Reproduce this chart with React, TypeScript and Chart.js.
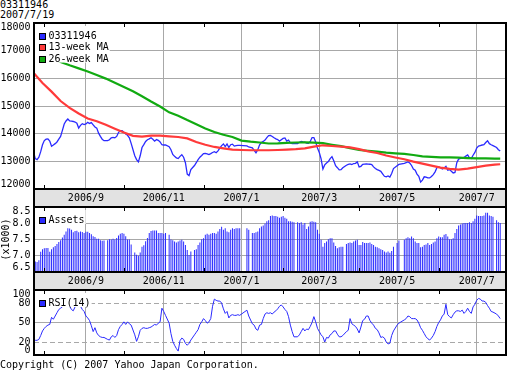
import React, { useEffect, useRef } from 'react';
import { Chart, registerables } from 'chart.js';

Chart.register(...registerables);

const FONT = '"DejaVu Sans Mono", "Liberation Mono", monospace';
const BLUE = '#2a2aff';
const RED = '#ff3a3a';
const GREEN = '#11aa11';
const GRID = '#a8a8a8';
const BAND = '#e2e2e2';

const fundCode = '03311946';
const asOfDate = '2007/7/19';
const copyright = 'Copyright (C) 2007 Yahoo Japan Corporation.';

// One entry per weekday, starting 2006-07-24 (Mon); null = Japanese holiday (no quote)
const price: (number | null)[] = [
  13362, 13100, 13062, 13150, 13350, 13600, 13750, 13800, 13810, 13730,
  13543, 13590, 13640, 13700, 13800, 13900, 14120, 14350, 14460, 14530,
  14460, 14450, 14440, 14420, 14380, 14205, 14300, 14360, 14330, 14350,
  14410, 14370, 14400, 14320, 14240, 14200, 14020, 13900, 13800, 13747,
  null, 13750, 13780, 13850, 13868, 13850, 13900, 14040, 14110, 14110,
  14050, 13990, 13940, 13850, 13650, null, 13200, 13062, 12978, 13200,
  13500, 13603, 13720, 13780, 13810, 13850, 13800, 13730, 13786, 13760,
  13700, 13600, 13591, 13590, null, 13530, 13420, 13250, 13180, 13123,
  13100, 13180, 13240, 13150, 12950, 12540, 12484, 12700, null, 12850,
  12950, 13062, 13150, 13210, 13280, 13290, 13270, 13245, 13280, 13320,
  13350, 13310, 13380, 13480, 13570, 13630, 13530, 13628, 13500, 13600,
  13620, 13550, 13565, 13575, 13580, null, null, null, 13560, 13520,
  null, 13485, 13400, 13310, 13420, 13600, 13680, 13720, 13770, 13860,
  13930, 13940, 13900, 13850, 13810, 13786, 13730, 13780, 13830, 13845,
  13730, 13770, 13664, 13645, 13640, null, 13645, 13690, 13715, 13700,
  13690, 13660, 13650, 13720, 13860, 13860, 13700, 13480, 13320, 13090,
  12720, 12870, 12940, 12990, 13100, 13170, 13020, 12840, 12770, 12690,
  12700, 12770, null, 12860, 12890, 12910, 12885, 12920, 12930, 12980,
  12800, 12820, 12890, 12900, 12906, 12900, 12895, 12880, 12800, 12740,
  12700, 12670, 12640, 12550, 12460, 12440, 12470, 12430, 12560, 12740,
  null, 12840, 12890, null, null, 12930, 12950, 12980, 12940, 12850,
  12720, 12680, 12540, 12460, 12250, 12320, 12440, 12430, 12400, 12400,
  12450, 12520, 12620, 12770, 12800, 12770, 12720, 12760, 12820, 12676,
  12700, 12640, 12580, 12600, 12950, 13080, 13110, 13120, 13140, 13190,
  13230, 13123, 13100, 13220, 13320, 13480, 13550, 13570, 13590, 13600,
  13680, 13745, 13639, 13600, 13567, null, 13500, 13420, 13370,
];

// Net assets (x1000), same weekday layout
const assets: (number | null)[] = [
  6.97, 6.82, 6.81, 6.86, 7.12, 7.2, 7.23, 7.24, 7.24, 7.12,
  7.2, 7.26, 7.3, 7.36, 7.42, 7.48, 7.56, 7.65, 7.75, 7.85,
  7.84, 7.8, 7.72, 7.76, 7.77, 7.72, 7.75, 7.73, 7.7, 7.74,
  7.74, 7.7, 7.66, 7.6, 7.58, 7.52, 7.52, 7.48, 7.46, 7.47,
  null, 7.48, 7.51, 7.5, 7.52, 7.5, 7.55, 7.62, 7.68, 7.7,
  7.68, 7.6, 7.5, 7.5, 7.35, null, 7.1, 7.03, 7.0, 7.1,
  7.28, 7.32, 7.45, 7.55, 7.7, 7.76, 7.78, 7.78, 7.78, 7.7,
  7.7, 7.7, 7.68, 7.7, null, 7.65, 7.5, 7.48, 7.44, 7.41,
  7.44, 7.47, 7.49, 7.44, 7.33, 7.18, 7.02, 7.13, null, 7.18,
  7.2, 7.33, 7.41, 7.51, 7.54, 7.65, 7.68, 7.65, 7.68, 7.7,
  7.7, 7.68, 7.75, 7.82, 7.89, 7.8, 7.85, 7.75, 7.72, 7.8,
  7.85, 7.82, 7.85, 7.85, 7.85, null, null, null, 7.85, 7.8,
  null, 7.7, 7.7, 7.72, 7.75, 7.85, 7.9, 7.93, 7.99, 8.06,
  8.09, 8.22, 8.24, 8.22, 8.22, 8.2, 8.17, 8.2, 8.22, 8.17,
  8.14, 8.06, 8.06, 8.05, 8.03, null, 8.03, 8.01, 8.03, 7.96,
  8.01, 7.82, 7.9, 8.05, 8.06, 8.05, 8.03, 7.8, 7.68, 7.49,
  7.28, 7.39, 7.44, 7.51, 7.54, 7.54, 7.41, 7.3, 7.23, 7.26,
  7.28, 7.28, null, 7.36, 7.39, 7.41, 7.39, 7.44, 7.47, 7.49,
  7.33, 7.33, 7.42, 7.39, 7.39, 7.39, 7.41, 7.36, 7.33, 7.28,
  7.26, 7.23, 7.2, 7.18, 7.13, 7.1, 7.13, 7.09, 7.15, 7.28,
  null, 7.39, 7.47, null, null, 7.49, 7.54, 7.57, 7.54, 7.59,
  7.54, 7.44, 7.39, 7.39, 7.26, 7.28, 7.33, 7.35, 7.39, 7.33,
  7.36, 7.41, 7.44, 7.54, 7.59, 7.57, 7.57, 7.65, 7.67, 7.59,
  7.51, 7.51, 7.54, 7.7, 7.82, 7.93, 7.96, 7.99, 8.01, 8.01,
  8.01, 8.03, 8.01, 8.06, 8.14, 8.24, 8.22, 8.22, 8.22, 8.24,
  8.32, 8.32, 8.24, 8.22, 8.2, null, 8.09, 8.03, 8.01,
];

// RSI(14), same weekday layout
const rsi: (number | null)[] = [
  22.6, 22.6, 22.6, 24, 30, 37, 41, 44, 46, 47,
  58, 55, 60, 65, 70, 72, 74, 78, 80, 78,
  75, 70, 68, 74, 77, 77, 75, 70, 67, 60,
  57, 53, 45, 36, 42, 34, 30, 28, 27, 27,
  null, 24, 23, 28, 30, 27, 30, 39, 44, 47,
  51, 47, 51, 48, 46, null, 31, 21, 28, 38,
  41, 42, 41, 41, 42, 43, 45, 47, 46, 49,
  51, 72, 67, 61, null, 49, 33, 21, 15, 10,
  6, 22, 26, 24, 18, 15, 18, 23, null, 31,
  35, 39, 47, 51, 56, 53, 49, 51, 56, 75,
  86, 84, 83, 83, 80, 71, 64, 67, 57, 61,
  62, 61, 61, 62, 61, null, null, null, 69, 60,
  null, 48, 46, 40, 38, 46, 47, 56, 63, 65,
  64, 65, 63, 66, 68, 71, 75, 77, 74, 70,
  67, 59, 46, 36, 28, null, 28, 31, 36, 41,
  37, 40, 39, 44, 50, 59, 51, 41, 36, 31,
  28, 20, 27, 26, 31, 33, 37, 37, 32, 28,
  28, 30, null, 36, 38, 56, 48, 46, 44, 40,
  34, 43, 53, 55, 60, 60, 53, 49, 46, 41,
  39, 34, 27, 28, 26, 20, 17, 18, 30, 37,
  null, 46, 49, null, null, 54, 56, 60, 59, 56,
  56, 56, 54, 49, 42, 38, 33, 28, 25, 23,
  26, 30, 36, 44, 50, 54, 60, 63, 78, 62,
  59, 57, 62, 66, 68, 68, 67, 69, 64, 67,
  72, 67, 64, 74, 78, 84, 87, 86, 83, 83,
  81, 76, 72, 67, 66, null, 63, 60, 56,
];

// Moving averages, read weekly (weekday index)
const maDay = [
  0, 5, 10, 15, 20, 25, 30, 35, 40, 45, 50, 55, 60, 65, 70, 75, 80, 85, 90, 95,
  100, 105, 110, 115, 120, 125, 130, 135, 140, 145, 150, 155, 160, 165, 170, 175,
  180, 185, 190, 195, 200, 205, 210, 215, 220, 225, 230, 235, 240, 245, 250, 255, 258,
];
const ma13 = [
  16200, 15830, 15520, 15180, 14930, 14730, 14550, 14450, 14320, 14180, 14040, 13920,
  13890, 13930, 13930, 13905, 13880, 13830, 13700, 13600, 13520, 13470, 13423, 13410,
  13400, 13400, 13400, 13410, 13423, 13440, 13470, 13530, 13580, 13555, 13530, 13507,
  13440, 13360, 13300, 13210, 13140, 13075, 12990, 12917, 12845, 12770, 12725, 12700,
  12735, 12790, 12845, 12880, 12894,
];
const ma26 = [
  17200, 17000, 16780, 16590, 16470, 16360, 16250, 16120, 15990, 15840, 15690, 15530,
  15350, 15160, 14980, 14770, 14650, 14490, 14340, 14190, 14060, 13960, 13880, 13750,
  13710, 13680, 13645, 13650, 13665, 13680, 13685, 13675, 13655, 13600, 13550, 13480,
  13410, 13380, 13350, 13315, 13290, 13270, 13230, 13182, 13160, 13145, 13140, 13133,
  13118, 13108, 13104, 13101, 13100,
];

// First weekday of each month (weekday index) and labels
const monthDay = [6, 29, 50, 72, 94, 115, 138, 158, 180, 201, 224, 245];
const monthLabel = ['2006/8', '2006/9', '2006/10', '2006/11', '2006/12', '2007/1', '2007/2', '2007/3', '2007/4', '2007/5', '2007/6', '2007/7'];

const priceTicks = [12000, 13000, 14000, 15000, 16000, 17000, 18000];
const assetTicks = [6.5, 7.0, 7.5, 8.0, 8.5];
const rsiTicks = [0, 20, 50, 80, 100];

const majorDays = monthDay.filter((_, k) => k % 2 === 1);
const majorLabels = monthLabel.filter((_, k) => k % 2 === 1);
const minorDays = monthDay.filter((_, k) => k % 2 === 0);

const X_MIN = 0.3;
const X_MAX = 261.2;
const BAND_H = 18;

const toPts = (vals: (number | null)[]) => vals.map((v, i) => ({ x: i, y: v }));
const maPts = (vals: number[]) => maDay.map((d, k) => ({ x: d, y: vals[k] }));

function makeDecor(band: boolean, yFmt: (v: number) => string) {
  return {
    id: 'decor',
    beforeDraw(chart: any) {
      const { ctx, chartArea: a } = chart;
      if (band) {
        ctx.save();
        ctx.fillStyle = BAND;
        ctx.fillRect(a.left, a.bottom, a.right - a.left, BAND_H);
        ctx.restore();
      }
    },
    afterDatasetsDraw(chart: any) {
      const { ctx, chartArea: a } = chart;
      const items = chart.data.datasets.map((d: any) => ({
        label: d.label,
        color: chart.config.type === 'bar' ? d.backgroundColor : d.borderColor,
      }));
      ctx.save();
      ctx.font = `10px ${FONT}`;
      const textX = a.left + 14.5;
      let maxW = 0;
      items.forEach((it: any) => { maxW = Math.max(maxW, ctx.measureText(it.label).width); });
      const rowH = 11.3;
      const firstY = a.top + 13;
      const lastY = firstY + (items.length - 1) * rowH;
      ctx.fillStyle = '#fff';
      ctx.fillRect(a.left + 1, a.top + 3, textX + maxW + 1 - (a.left + 1), lastY + 4 - (a.top + 3));
      items.forEach((it: any, k: number) => {
        const cy = Math.round(firstY + k * rowH);
        ctx.fillStyle = '#000';
        ctx.fillRect(a.left + 5, cy - 3, 7, 7);
        ctx.fillStyle = it.color;
        ctx.fillRect(a.left + 6, cy - 2, 5, 5);
        ctx.fillStyle = '#000';
        ctx.textBaseline = 'middle';
        ctx.textAlign = 'left';
        ctx.fillText(it.label, textX, cy + 0.5);
      });
      ctx.restore();
    },
    afterDraw(chart: any) {
      const { ctx, chartArea: a, scales } = chart;
      const xs = scales.x;
      const ys = scales.y;
      ctx.save();
      ctx.strokeStyle = '#000';
      ctx.lineWidth = 1;
      minorDays.forEach((d) => {
        const px = Math.round(xs.getPixelForValue(d)) + 0.5;
        ctx.beginPath();
        ctx.moveTo(px, a.top);
        ctx.lineTo(px, a.top + 4);
        ctx.moveTo(px, a.bottom - 4);
        ctx.lineTo(px, a.bottom);
        ctx.stroke();
      });
      ctx.lineWidth = 2;
      const bottom = band ? a.bottom + BAND_H : a.bottom;
      ctx.strokeRect(a.left, a.top, a.right - a.left, bottom - a.top);
      if (band) {
        ctx.beginPath();
        ctx.moveTo(a.left, a.bottom);
        ctx.lineTo(a.right, a.bottom);
        ctx.stroke();
      }
      ctx.fillStyle = '#000';
      ctx.font = `10px ${FONT}`;
      ctx.textAlign = 'right';
      ctx.textBaseline = 'middle';
      ys.ticks.forEach((t: any) => {
        const p = ys.getPixelForValue(t.value);
        const py = Math.min(Math.max(p, a.top + 4), a.bottom - 4.5);
        ctx.fillText(yFmt(t.value), a.left - 3.5, py);
      });
      ctx.restore();
    },
  };
}

function scalesFor(yMin: number, yMax: number, yTicks: number[], showX: boolean, dash?: any, yTitle?: string) {
  return {
    x: {
      type: 'linear',
      min: X_MIN,
      max: X_MAX,
      offset: false,
      afterBuildTicks: (s: any) => { s.ticks = majorDays.map((v) => ({ value: v })); },
      afterFit: (s: any) => { s.height = showX ? BAND_H : 0; },
      ticks: {
        display: showX,
        autoSkip: false,
        maxRotation: 0,
        minRotation: 0,
        padding: 3,
        color: '#000',
        font: { family: FONT, size: 10 },
        callback: (_v: any, i: number) => majorLabels[i],
      },
      grid: { color: GRID, lineWidth: 1, drawTicks: false, offset: false },
      border: { display: false },
    },
    y: {
      type: 'linear',
      min: yMin,
      max: yMax,
      afterBuildTicks: (s: any) => { s.ticks = yTicks.map((v) => ({ value: v })); },
      afterFit: (s: any) => { s.width = 34; },
      ticks: { display: false },
      grid: { color: GRID, lineWidth: 1, drawTicks: false },
      border: { display: false, dash: dash || [] },
      title: yTitle
        ? { display: true, text: yTitle, color: '#000', font: { family: FONT, size: 10 }, padding: 0 }
        : { display: false },
    },
  };
}

function baseOptions(padTop: number, padBottom: number, scales: any) {
  return {
    animation: false,
    responsive: false,
    maintainAspectRatio: false,
    events: [],
    layout: { padding: { top: padTop, bottom: padBottom, left: 0, right: 6 } },
    plugins: { legend: { display: false }, tooltip: { enabled: false }, title: { display: false } },
    scales,
  };
}

export default function App() {
  const r1 = useRef<HTMLCanvasElement>(null);
  const r2 = useRef<HTMLCanvasElement>(null);
  const r3 = useRef<HTMLCanvasElement>(null);

  useEffect(() => {
    Chart.defaults.font.family = FONT;
    Chart.defaults.color = '#000';

    const c1 = new Chart(r1.current as HTMLCanvasElement, {
      type: 'line',
      data: {
        datasets: [
          { label: fundCode, data: toPts(price), borderColor: BLUE, backgroundColor: BLUE, borderWidth: 1.3, pointRadius: 0, spanGaps: true, order: 3 },
          { label: '13-week MA', data: maPts(ma13), borderColor: RED, backgroundColor: RED, borderWidth: 2.2, pointRadius: 0, order: 1 },
          { label: '26-week MA', data: maPts(ma26), borderColor: GREEN, backgroundColor: GREEN, borderWidth: 2.2, pointRadius: 0, order: 2 },
        ],
      } as any,
      options: baseOptions(23, 165, scalesFor(12000, 18000, priceTicks, true)) as any,
      plugins: [makeDecor(true, (v) => String(v))],
    });

    const c2 = new Chart(r2.current as HTMLCanvasElement, {
      type: 'bar',
      data: {
        datasets: [
          { label: 'Assets', data: toPts(assets), backgroundColor: BLUE, borderWidth: 0, barThickness: 1, inflateAmount: 0 },
        ],
      } as any,
      options: baseOptions(207, 82, scalesFor(6.5, 8.5, assetTicks, true, undefined, '(x1000)')) as any,
      plugins: [makeDecor(true, (v) => v.toFixed(1))],
    });

    const c3 = new Chart(r3.current as HTMLCanvasElement, {
      type: 'line',
      data: {
        datasets: [
          { label: 'RSI(14)', data: toPts(rsi), borderColor: BLUE, backgroundColor: BLUE, borderWidth: 1, pointRadius: 0, spanGaps: true },
        ],
      } as any,
      options: baseOptions(
        290,
        17,
        scalesFor(0, 100, rsiTicks, false, (ctx: any) => (ctx.tick && (ctx.tick.value === 20 || ctx.tick.value === 80) ? [5, 3] : []))
      ) as any,
      plugins: [makeDecor(false, (v) => String(v))],
    });

    return () => {
      c1.destroy();
      c2.destroy();
      c3.destroy();
    };
  }, []);

  const canvasStyle: React.CSSProperties = { position: 'absolute', left: 0, top: 0, width: 512, height: 372 };
  const textStyle: React.CSSProperties = { position: 'absolute', left: 0, font: `10px/10px ${FONT}`, color: '#000', whiteSpace: 'pre' };

  return (
    <div style={{ position: 'fixed', left: 0, top: 0, width: 512, height: 372, background: '#fff', overflow: 'hidden' }}>
      <div style={{ ...textStyle, top: 0 }}>
        {fundCode}
        <br />
        {asOfDate}
      </div>
      <canvas ref={r1} width={512} height={372} style={canvasStyle} />
      <canvas ref={r2} width={512} height={372} style={canvasStyle} />
      <canvas ref={r3} width={512} height={372} style={canvasStyle} />
      <div style={{ ...textStyle, top: 360 }}>{copyright}</div>
    </div>
  );
}
